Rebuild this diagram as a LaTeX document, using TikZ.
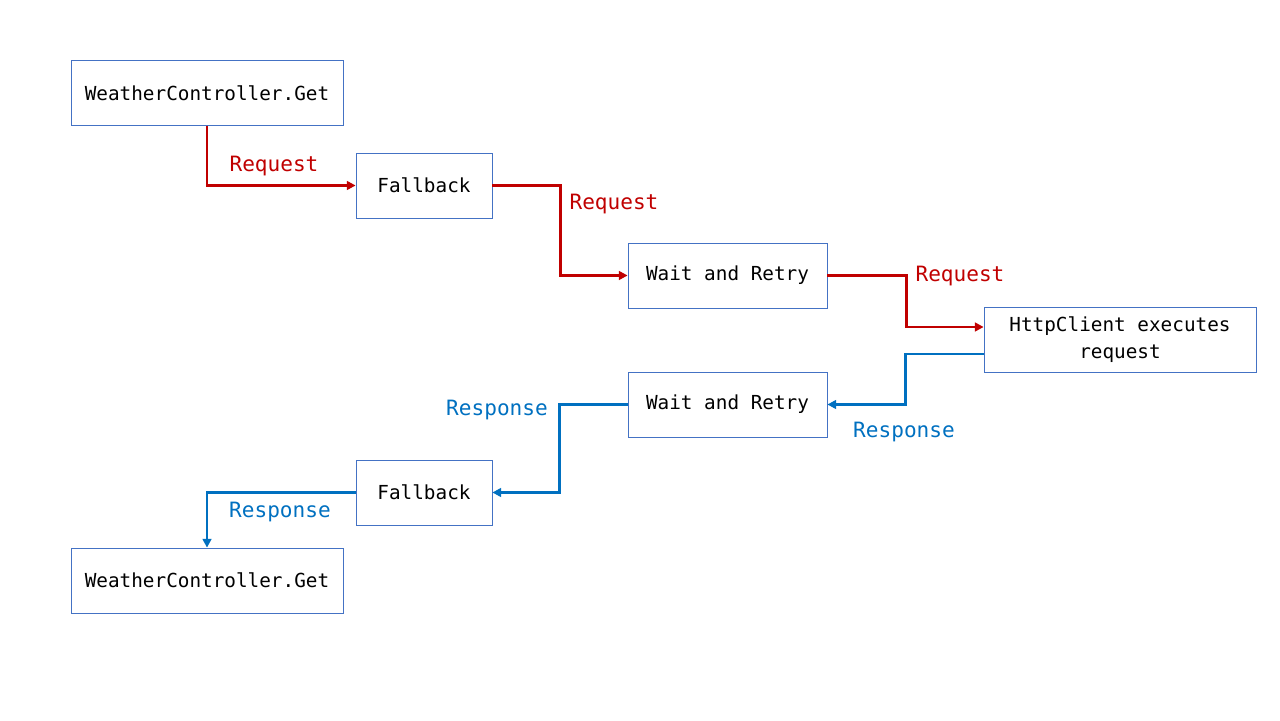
\documentclass[tikz,border=0pt]{standalone}
\usepackage{fontspec}
\setmonofont{DejaVu Sans Mono}
\definecolor{reqred}{RGB}{192, 0, 0}
\definecolor{respblue}{RGB}{0, 112, 192}
\definecolor{boxblue}{RGB}{68, 114, 196}
\usetikzlibrary{arrows.meta, positioning, calc}

\tikzset{
  stage/.style={draw=boxblue, line width=0.45pt, fill=white, inner sep=0pt, align=center,
    minimum height=1.3cm, font=\ttfamily\fontsize{11}{15}\selectfont},
  reqline/.style={draw=reqred, line width=1.4pt, -{Triangle[length=5pt, width=5pt]}},
  respline/.style={draw=respblue, line width=1.4pt, -{Triangle[length=5pt, width=5pt]}},
  reqlabel/.style={text=reqred, font=\ttfamily\fontsize{12}{14}\selectfont},
  resplabel/.style={text=respblue, font=\ttfamily\fontsize{12}{14}\selectfont}
}

\begin{document}
\begin{tikzpicture}
  \useasboundingbox (0,0) rectangle (25.6,14.4);

  % request path
  \node[stage, minimum width=5.44cm] (ctrlIn) at (4.14, 12.54) {WeatherController.Get};
  \node[stage, minimum width=2.72cm] (fallbackIn) at (8.48, 10.69) {Fallback};
  \node[stage, minimum width=3.98cm] (retryIn) at (14.55, 8.89) {Wait and Retry};
  \node[stage, minimum width=5.44cm] (client) at (22.4, 7.61) {HttpClient executes\\request};

  % response path
  \node[stage, minimum width=3.98cm] (retryOut) at (14.55, 6.31) {Wait and Retry};
  \node[stage, minimum width=2.72cm] (fallbackOut) at (8.48, 4.55) {Fallback};
  \node[stage, minimum width=5.44cm] (ctrlOut) at (4.14, 2.79) {WeatherController.Get};

  \draw[reqline] (ctrlIn.south) |- (fallbackIn.west);
  \draw[reqline] (fallbackIn.east) -- ++(1.36,0) |- (retryIn.west);
  \draw[reqline] (retryIn.east) -- ++(1.58,0) |- ([yshift=0.25cm]client.west);

  \draw[respline] ([yshift=-0.29cm]client.west) -- ++(-1.56,0) |- (retryOut.east);
  \draw[respline] (retryOut.west) -- ++(-1.36,0) |- (fallbackOut.east);
  \draw[respline] (fallbackOut.west) -| (ctrlOut.north);

  \node[reqlabel] (req1) at (5.48, 11.08) {Request};
  \node[reqlabel] (req2) at (12.28, 10.32) {Request};
  \node[reqlabel] (req3) at (19.2, 8.88) {Request};

  \node[resplabel] (resp1) at (18.08, 5.76) {Response};
  \node[resplabel] (resp2) at (9.94, 6.2) {Response};
  \node[resplabel] (resp3) at (5.6, 4.16) {Response};
\end{tikzpicture}
\end{document}
